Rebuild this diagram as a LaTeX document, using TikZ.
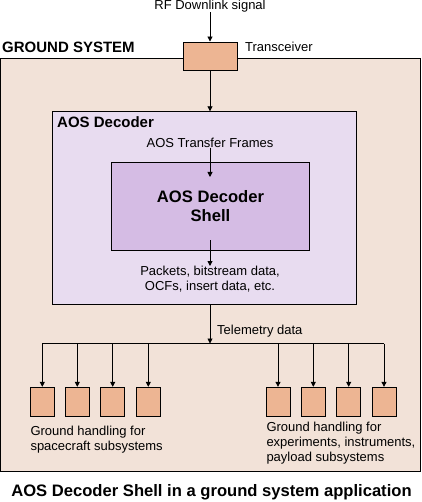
\documentclass[tikz,border=0pt]{standalone}
\usepackage{fontspec}
\setmainfont{Liberation Sans}
\usetikzlibrary{arrows.meta}
\definecolor{salmon}{RGB}{237,181,147}
\definecolor{groundbg}{RGB}{242,226,216}
\definecolor{decbg}{RGB}{232,220,240}
\definecolor{shellbg}{RGB}{213,188,228}
\tikzset{
  lw/.style={line width=0.9pt},
  unit/.style={draw=black, lw, fill=salmon, minimum width=24pt, minimum height=29pt, inner sep=0pt},
  arr/.style={lw, -{Triangle[length=5pt,width=5pt]}},
  txt/.style={font=\fontsize{13}{15}\selectfont, inner sep=0pt, align=center},
  txtl/.style={font=\fontsize{13}{15}\selectfont, inner sep=0pt, align=left},
  hdr/.style={font=\bfseries\fontsize{15}{17}\selectfont, inner sep=0pt}
}
\begin{document}
\begin{tikzpicture}[x=1pt,y=-1pt]
\useasboundingbox (0,0) rectangle (421,502);
% ground system
\node[draw=black, lw, fill=groundbg, minimum width=419.5pt, minimum height=413pt, inner sep=0pt] (gs) at (210.2,265.2) {};
\node[hdr, anchor=west] (gslab) at (2,47) {GROUND SYSTEM};
% transceiver
\node[unit, minimum width=54pt, minimum height=28pt] (tx) at (210,56) {};
\node[txt, anchor=west] (txlab) at (245,47) {Transceiver};
\node[txt] (rf) at (210,6) {RF Downlink signal};
% decoder
\node[draw=black, lw, fill=decbg, minimum width=304.4pt, minimum height=192.3pt, inner sep=0pt] (dec) at (204.5,207.9) {};
\node[hdr, anchor=west] (declab) at (57,122) {AOS Decoder};
\node[draw=black, lw, fill=shellbg, minimum width=198.4pt, minimum height=88pt, inner sep=0pt, align=center, font=\bfseries\fontsize{16.6}{19}\selectfont] (shell) at (210.5,206.3) {AOS Decoder\\Shell};
\node[txt] (frames) at (210,143) {AOS Transfer Frames};
\coordinate (inS) at (210,177);
\coordinate (outS) at (210,240);
\node[txt, anchor=north] (pk) at (210,266) {Packets, bitstream data,\\OCFs, insert data, etc.};
\draw[arr] (rf.south) -- (tx.north);
\draw[arr] (tx.south) -- (tx.south |- dec.north);
\draw[arr] (frames.south) -- (inS);
\draw[arr] (outS) -- (pk.north);
% telemetry bus
\coordinate (bus) at (210,343.5);
\node[txt, anchor=west] (tm) at (217,330.7) {Telemetry data};
\draw[arr] (tx.south |- dec.south) -- (bus);
\foreach \i/\x in {1/42.3,2/77.3,3/112.7,4/148.3,5/278,6/313.3,7/348.7,8/384}{
  \node[unit] (u\i) at (\x,401.8) {};
}
\draw[lw] (u1.north |- bus) -- (u8.north |- bus);
\foreach \i in {1,...,8}{
  \draw[arr] (u\i.north |- bus) -- (u\i.north);
}
\node[txtl, anchor=north west] (lt) at (30.3,426) {Ground handling for\\spacecraft subsystems};
\node[txtl, anchor=north west] (rt) at (266.3,422) {Ground handling for\\experiments, instruments,\\payload subsystems};
\node[font=\bfseries\fontsize{16.6}{19}\selectfont, inner sep=0pt] (cap) at (211.5,492) {AOS Decoder Shell in a ground system application};
\end{tikzpicture}
\end{document}
